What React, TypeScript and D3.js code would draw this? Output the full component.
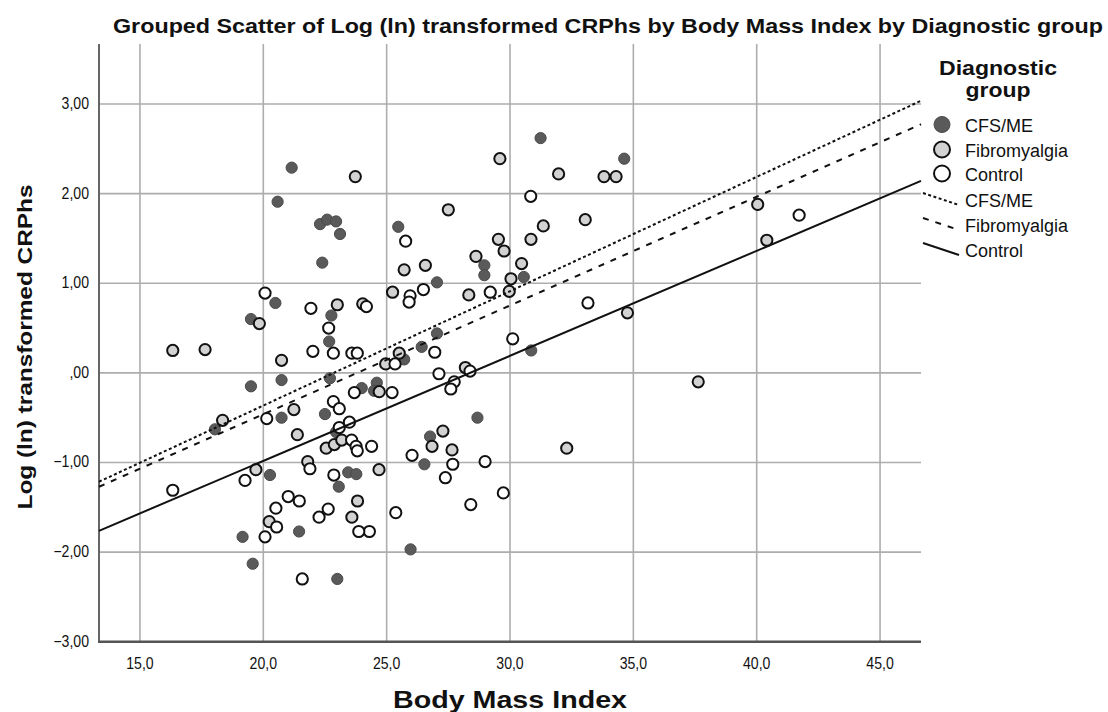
import React, { useEffect, useRef } from 'react';
import * as d3 from 'd3';

// BMI / log(ln) CRPhs pairs
const cfsPoints: [number, number][] = [
  [21.15, 2.29], [20.58, 1.91], [22.3, 1.66], [22.59, 1.71], [22.95, 1.69], [23.11, 1.55],
  [22.39, 1.23], [20.49, 0.78], [22.76, 0.64], [19.5, 0.6], [22.67, 0.35], [31.24, 2.62],
  [34.63, 2.39], [25.47, 1.63], [28.96, 1.2], [28.96, 1.09], [27.04, 1.01], [30.56, 1.07],
  [27.04, 0.44], [30.86, 0.25], [26.42, 0.29], [25.71, 0.15], [19.5, -0.15], [20.74, -0.08],
  [22.7, -0.06], [23.99, -0.17], [24.6, -0.11], [24.49, -0.2], [22.5, -0.46], [20.74, -0.5],
  [18.04, -0.63], [22.95, -0.66], [28.68, -0.5], [26.76, -0.71], [26.53, -1.02], [20.27, -1.14],
  [23.44, -1.11], [23.77, -1.13], [23.06, -1.27], [21.45, -1.77], [19.16, -1.83], [19.57, -2.13],
  [23.0, -2.3], [25.97, -1.97],
];

const fibroPoints: [number, number][] = [
  [23.73, 2.19], [23.0, 0.76], [24.03, 0.77], [19.84, 0.55], [29.59, 2.39], [31.97, 2.22],
  [33.81, 2.19], [34.3, 2.19], [27.5, 1.82], [33.05, 1.71], [31.35, 1.64], [29.53, 1.49],
  [30.85, 1.49], [29.76, 1.36], [28.62, 1.3], [25.71, 1.15], [26.57, 1.2], [30.47, 1.22],
  [30.04, 1.05], [25.24, 0.9], [28.33, 0.87], [29.97, 0.91], [34.76, 0.67], [40.04, 1.88],
  [40.41, 1.48], [37.63, -0.1], [25.51, 0.22], [24.96, 0.1], [28.19, 0.06], [24.7, -0.21],
  [27.28, -0.65], [26.84, -0.82], [27.65, -0.86], [32.3, -0.84], [24.69, -1.08], [16.33, 0.25],
  [17.64, 0.26], [20.74, 0.14], [21.24, -0.41], [18.35, -0.53], [21.38, -0.69], [22.55, -0.84],
  [22.88, -0.8], [23.18, -0.75], [21.8, -0.99], [19.7, -1.08], [23.82, -1.43], [23.59, -1.61],
  [20.24, -1.66],
];

const controlPoints: [number, number][] = [
  [20.07, 0.89], [21.93, 0.72], [24.18, 0.74], [22.65, 0.5], [30.84, 1.97], [25.77, 1.47],
  [25.95, 0.86], [25.91, 0.79], [26.49, 0.93], [29.2, 0.9], [33.16, 0.78], [30.11, 0.38],
  [41.72, 1.76], [26.95, 0.23], [25.34, 0.1], [27.12, -0.01], [28.38, 0.02], [27.74, -0.1],
  [27.6, -0.18], [25.22, -0.22], [26.03, -0.92], [27.68, -1.02], [28.99, -0.99], [27.38, -1.17],
  [29.73, -1.34], [28.41, -1.47], [25.37, -1.56], [24.39, -0.82], [24.3, -1.77], [23.87, -1.77],
  [22.01, 0.24], [22.84, 0.22], [23.59, 0.22], [23.81, 0.22], [23.69, -0.22], [22.84, -0.32],
  [23.08, -0.4], [20.14, -0.51], [23.08, -0.61], [23.49, -0.55], [23.58, -0.75], [23.76, -0.82],
  [23.81, -0.87], [21.89, -1.07], [19.26, -1.2], [22.86, -1.14], [16.33, -1.31], [21.01, -1.38],
  [21.46, -1.43], [20.51, -1.51], [22.26, -1.61], [22.63, -1.52], [20.54, -1.72], [20.07, -1.83],
  [21.58, -2.3],
];

const groups = ['CFS/ME', 'Fibromyalgia', 'Control'];
const fitIntercepts = [-2.917, -2.89, -3.326];
const fitSlopes = [0.1276, 0.1214, 0.1172];

const xTicks = [15, 20, 25, 30, 35, 40, 45];
const yTicks = [-3, -2, -1, 0, 1, 2, 3];

const FONT = "'Liberation Sans', Arial, sans-serif";

export default function App() {
  const svgRef = useRef<SVGSVGElement>(null);

  useEffect(() => {
    const svg = d3.select(svgRef.current);
    svg.selectAll('*').remove();

    const x = d3.scaleLinear().domain([13.34, 46.66]).range([99, 921]);
    const y = d3.scaleLinear().domain([-3, 3.67]).range([641.7, 44]);

    const fills = ['#5a5a5a', '#d2d2d2', '#ffffff'];
    const strokes = ['#4a4a4a', '#111', '#111'];
    const dashes = ['3,2.5', '6,7', null];

    // grid
    const grid = svg.append('g').attr('stroke', '#adadad').attr('stroke-width', 1.6);
    xTicks.forEach((t) => {
      grid.append('line').attr('x1', x(t)).attr('x2', x(t)).attr('y1', y.range()[1]).attr('y2', y.range()[0]);
    });
    yTicks.filter((t) => t > -3).forEach((t) => {
      grid.append('line').attr('x1', x.range()[0]).attr('x2', x.range()[1]).attr('y1', y(t)).attr('y2', y(t));
    });

    // axes
    svg.append('line').attr('x1', 99).attr('x2', 99).attr('y1', y.range()[1]).attr('y2', y.range()[0])
      .attr('stroke', '#666').attr('stroke-width', 2);
    svg.append('line').attr('x1', 98).attr('x2', x.range()[1]).attr('y1', y(-3)).attr('y2', y(-3))
      .attr('stroke', '#555').attr('stroke-width', 2.5);

    // tick labels
    yTicks.forEach((t) => {
      const label = t === 0 ? ',00' : d3.format('.2f')(t).replace('.', ',');
      svg.append('text')
        .attr('transform', `translate(89,${y(t) + 5}) scale(0.88,1)`)
        .attr('text-anchor', 'end')
        .attr('font-family', FONT).attr('font-size', 16).attr('fill', '#111')
        .text(label);
    });
    xTicks.forEach((t) => {
      svg.append('text')
        .attr('transform', `translate(${x(t)},669) scale(0.88,1)`)
        .attr('text-anchor', 'middle')
        .attr('font-family', FONT).attr('font-size', 16).attr('fill', '#111')
        .text(d3.format('.1f')(t).replace('.', ','));
    });

    // points
    [cfsPoints, fibroPoints, controlPoints].forEach((pts, i) => {
      svg.append('g').selectAll('circle').data(pts).enter().append('circle')
        .attr('cx', (d) => x(d[0]))
        .attr('cy', (d) => y(d[1]))
        .attr('r', 5.6)
        .attr('fill', fills[i])
        .attr('stroke', strokes[i])
        .attr('stroke-width', i === 0 ? 1 : 2);
    });

    // fit lines
    groups.forEach((g, i) => {
      const xs = x.domain();
      const path = svg.append('path')
        .attr('d', d3.line<number>().x((d) => x(d)).y((d) => y(fitIntercepts[i] + fitSlopes[i] * d))(xs))
        .attr('fill', 'none').attr('stroke', '#111').attr('stroke-width', 2);
      if (dashes[i]) path.attr('stroke-dasharray', dashes[i]);
    });

    // titles
    svg.append('text').attr('x', 608).attr('y', 33).attr('text-anchor', 'middle')
      .attr('font-family', FONT).attr('font-weight', 'bold').attr('font-size', 21)
      .attr('textLength', 990).attr('lengthAdjust', 'spacingAndGlyphs').attr('fill', '#111')
      .text('Grouped Scatter of Log (ln) transformed CRPhs by Body Mass Index by Diagnostic group');
    svg.append('text').attr('transform', 'translate(32,347) rotate(-90)').attr('text-anchor', 'middle')
      .attr('font-family', FONT).attr('font-weight', 'bold').attr('font-size', 21)
      .attr('textLength', 325).attr('lengthAdjust', 'spacingAndGlyphs').attr('fill', '#111')
      .text('Log (ln) transformed CRPhs');
    svg.append('text').attr('x', 510).attr('y', 708).attr('text-anchor', 'middle')
      .attr('font-family', FONT).attr('font-weight', 'bold').attr('font-size', 24)
      .attr('textLength', 234).attr('lengthAdjust', 'spacingAndGlyphs').attr('fill', '#111')
      .text('Body Mass Index');

    // legend
    const lg = svg.append('g').attr('font-family', FONT).attr('fill', '#111');
    lg.append('text').attr('x', 998).attr('y', 75).attr('text-anchor', 'middle')
      .attr('font-weight', 'bold').attr('font-size', 21)
      .attr('textLength', 118).attr('lengthAdjust', 'spacingAndGlyphs').text('Diagnostic');
    lg.append('text').attr('x', 998).attr('y', 97).attr('text-anchor', 'middle')
      .attr('font-weight', 'bold').attr('font-size', 21)
      .attr('textLength', 65).attr('lengthAdjust', 'spacingAndGlyphs').text('group');
    const markerY = [124.5, 149.5, 173.5];
    const lineY = [200, 225, 250];
    groups.forEach((g, i) => {
      lg.append('circle').attr('cx', 942).attr('cy', markerY[i]).attr('r', 8)
        .attr('fill', fills[i]).attr('stroke', strokes[i]).attr('stroke-width', i === 0 ? 1 : 2);
      lg.append('text').attr('x', 965).attr('y', markerY[i] + 7).attr('font-size', 18).text(g);
      const seg = lg.append('line')
        .attr('x1', 923).attr('y1', lineY[i] - 7).attr('x2', 959).attr('y2', lineY[i] + 5)
        .attr('stroke', '#111').attr('stroke-width', 2);
      if (dashes[i]) seg.attr('stroke-dasharray', dashes[i]);
      lg.append('text').attr('x', 965).attr('y', lineY[i] + 7).attr('font-size', 18).text(g);
    });
  }, []);

  return (
    <svg
      ref={svgRef}
      width={1108}
      height={712}
      style={{ position: 'absolute', left: 0, top: 0, background: '#fff' }}
    />
  );
}
